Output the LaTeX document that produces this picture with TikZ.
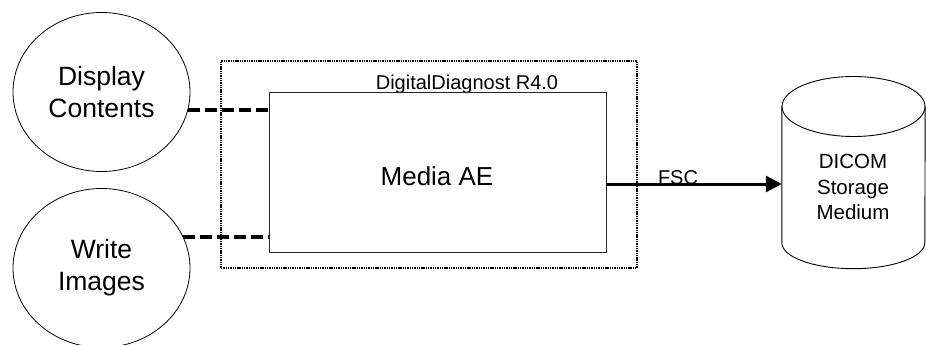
\documentclass[tikz,border=0pt]{standalone}
\usepackage{fontspec}
\setmainfont{Liberation Sans}
\usetikzlibrary{shapes.geometric,arrows.meta}
\begin{document}
\begin{tikzpicture}[x=1pt,y=-1pt,
  usecase/.style={ellipse,draw,line width=0.8pt,inner sep=0pt,minimum width=177pt,minimum height=159pt,align=center,font=\fontsize{26.5}{32}\selectfont},
  aebox/.style={draw=black!85,line width=0.9pt,minimum width=337pt,minimum height=160pt,inner sep=0pt},
  appbox/.style={draw,line width=2.6pt,dash pattern=on 1.4pt off 0.9pt,minimum width=416pt,minimum height=207pt,inner sep=0pt},
  dashline/.style={line width=4pt,dash pattern=on 12pt off 5pt},
  flow/.style={line width=3pt,-{Triangle[length=16pt,width=16pt]}},
  cyl/.style={line width=0.9pt}
]
\useasboundingbox (0,0) rectangle (926,345);
% use cases
\node[usecase] (dc) at (101.5,92) {Display\\Contents};
\node[usecase] (wi) at (101.5,268) {Write\\Images};
% application box
\node[appbox] (dd) at (429,164.5) {};
\node[anchor=base,font=\fontsize{20}{24}\selectfont] (ddl) at (467,89) {DigitalDiagnost R4.0};
\node[aebox] (media) at (437.5,172) {};
\node[font=\fontsize{26}{30}\selectfont] (medial) at (437,176) {Media AE};
% storage medium
\node[minimum width=143pt,minimum height=136pt,inner sep=0pt] (cyl) at (853.5,174.5) {};
\draw[cyl] (cyl.center |- 0,106.5) ellipse [x radius=71.5pt,y radius=30pt];
\draw[cyl] (cyl.north west) -- (cyl.south west)
  arc[start angle=180,end angle=360,x radius=71.5pt,y radius=26pt] -- (cyl.north east);
\node[align=center,font=\fontsize{20.5}{25.5}\selectfont] (cylt) at (853,187) {DICOM\\Storage\\Medium};
% connectors
\draw[dashline] (dc.-12) -- (dc.-12 -| media.west);
\draw[dashline] (wi.21) -- (wi.21 -| media.west);
\coordinate (fstart) at ([yshift=-12pt]media.east);
\draw[flow] (fstart) -- (fstart -| cyl.west);
\node[anchor=base,font=\fontsize{20}{24}\selectfont] (fsc) at (678,184.5) {FSC};
\end{tikzpicture}
\end{document}
